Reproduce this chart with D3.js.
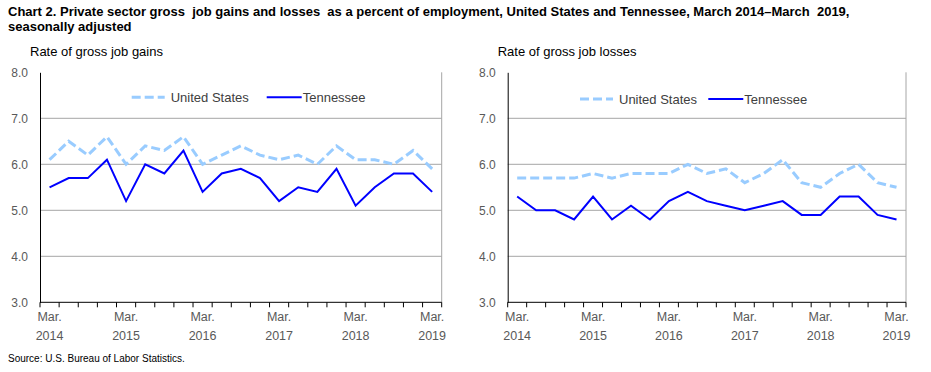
<!DOCTYPE html>
<html>
<head>
<meta charset="utf-8">
<script src="https://cdn.jsdelivr.net/npm/d3@7"></script>
<style>
  body { margin: 0; background: #fff; }
  svg text { font-family: Arial, "Liberation Sans", sans-serif; white-space: pre; }
</style>
</head>
<body>
<div id="chart"></div>
<script>
// Datos (trimestral, marzo 2014 - marzo 2019)
const quarters = d3.range(21);
const yearLabels = ['2014', '2015', '2016', '2017', '2018', '2019'];
const yTicks = [3, 4, 5, 6, 7, 8];

const gainsUS = [6.1, 6.5, 6.2, 6.6, 6.0, 6.4, 6.3, 6.6, 6.0, 6.2, 6.4, 6.2, 6.1, 6.2, 6.0, 6.4, 6.1, 6.1, 6.0, 6.3, 5.9];
const gainsTN = [5.5, 5.7, 5.7, 6.1, 5.2, 6.0, 5.8, 6.3, 5.4, 5.8, 5.9, 5.7, 5.2, 5.5, 5.4, 5.9, 5.1, 5.5, 5.8, 5.8, 5.4];
const lossesUS = [5.7, 5.7, 5.7, 5.7, 5.8, 5.7, 5.8, 5.8, 5.8, 6.0, 5.8, 5.9, 5.6, 5.8, 6.1, 5.6, 5.5, 5.8, 6.0, 5.6, 5.5];
const lossesTN = [5.3, 5.0, 5.0, 4.8, 5.3, 4.8, 5.1, 4.8, 5.2, 5.4, 5.2, 5.1, 5.0, 5.1, 5.2, 4.9, 4.9, 5.3, 5.3, 4.9, 4.8];

const width = 931, height = 372;

const svg = d3.select('#chart').append('svg')
    .attr('width', width)
    .attr('height', height);

//Título
const title = svg.append('text')
    .attr('x', 8)
    .attr('font-size', 13)
    .attr('font-weight', 'bold')
    .attr('fill', '#000');
title.append('tspan').attr('x', 8).attr('y', 16)
    .text('Chart 2. Private sector gross  job gains and losses  as a percent of employment, United States and Tennessee, March 2014\u2013March  2019,');
title.append('tspan').attr('x', 8).attr('y', 31)
    .text('seasonally adjusted');

svg.append('text')
    .attr('x', 8).attr('y', 362)
    .attr('font-size', 10)
    .attr('fill', '#000')
    .text('Source: U.S. Bureau of Labor Statistics.');

function drawPanel(left, right, label, us, tn, legend) {
    const top = 72.3, bottom = 302.3;

    const x = d3.scaleBand().domain(quarters).range([left, right]);
    const y = d3.scaleLinear().domain([3, 8]).range([bottom, top]);

    const g = svg.append('g');

    g.append('text')
        .attr('x', left - 10).attr('y', 56)
        .attr('font-size', 13)
        .attr('fill', '#000')
        .text(label);

    //Rejilla
    g.selectAll('.grid')
        .data(yTicks.filter(d => d > 3 && d < 8))
        .enter().append('line')
        .attr('x1', left).attr('x2', right)
        .attr('y1', d => y(d)).attr('y2', d => y(d))
        .attr('stroke', '#a6a6a6')
        .attr('stroke-width', 1);

    g.append('line')
        .attr('x1', right).attr('x2', right)
        .attr('y1', top).attr('y2', bottom)
        .attr('stroke', '#a6a6a6');

    //Eje Y
    const yAxis = g.append('g')
        .attr('transform', 'translate(' + left + ',0)')
        .call(d3.axisLeft(y).tickValues(yTicks).tickFormat(d3.format('.1f')).tickSize(0).tickPadding(12));
    yAxis.select('.domain').attr('stroke', '#000');
    yAxis.selectAll('text').attr('font-size', 12).attr('fill', '#595959').attr('font-family', 'Arial, "Liberation Sans", sans-serif');

    //Eje X
    const bounds = quarters.map(d => x(d)).concat([right]);
    g.append('line')
        .attr('x1', left).attr('x2', right)
        .attr('y1', bottom).attr('y2', bottom)
        .attr('stroke', '#000');
    g.selectAll('.tick-x')
        .data(bounds)
        .enter().append('line')
        .attr('x1', d => d).attr('x2', d => d)
        .attr('y1', bottom).attr('y2', bottom + 5)
        .attr('stroke', '#000');

    const xl = g.selectAll('.xlab')
        .data(yearLabels)
        .enter().append('text')
        .attr('text-anchor', 'middle')
        .attr('font-size', 12.5)
        .attr('fill', '#595959');
    xl.append('tspan')
        .attr('x', (d, i) => x(i * 4) + x.bandwidth() / 2)
        .attr('y', 321)
        .text('Mar.');
    xl.append('tspan')
        .attr('x', (d, i) => x(i * 4) + x.bandwidth() / 2)
        .attr('y', 340)
        .text(d => d);

    //Líneas
    const line = d3.line()
        .x((d, i) => x(i) + x.bandwidth() / 2)
        .y(d => y(d));

    g.append('path')
        .datum(us)
        .attr('d', line)
        .attr('fill', 'none')
        .attr('stroke', '#99ccff')
        .attr('stroke-width', 3)
        .attr('stroke-dasharray', '9,4');

    g.append('path')
        .datum(tn)
        .attr('d', line)
        .attr('fill', 'none')
        .attr('stroke', '#0000ff')
        .attr('stroke-width', 2);

    //Leyenda
    const ly = legend.y;
    g.append('line')
        .attr('x1', legend.x1).attr('x2', legend.x1 + 33)
        .attr('y1', ly).attr('y2', ly)
        .attr('stroke', '#99ccff').attr('stroke-width', 3)
        .attr('stroke-dasharray', '9,4');
    g.append('text')
        .attr('x', legend.x1 + 39).attr('y', ly + 4.5)
        .attr('font-size', 13).attr('fill', '#404040')
        .text('United States');
    g.append('line')
        .attr('x1', legend.x2).attr('x2', legend.x2 + 35)
        .attr('y1', ly).attr('y2', ly)
        .attr('stroke', '#0000ff').attr('stroke-width', 2);
    g.append('text')
        .attr('x', legend.x2 + 36).attr('y', ly + 4.5)
        .attr('font-size', 13).attr('fill', '#404040')
        .text('Tennessee');
}

drawPanel(40, 441.7, 'Rate of gross job gains', gainsUS, gainsTN, {x1: 131.7, x2: 266.7, y: 97.3});
drawPanel(507.7, 906, 'Rate of gross job losses', lossesUS, lossesTN, {x1: 580, x2: 708.3, y: 99});
</script>
</body>
</html>
